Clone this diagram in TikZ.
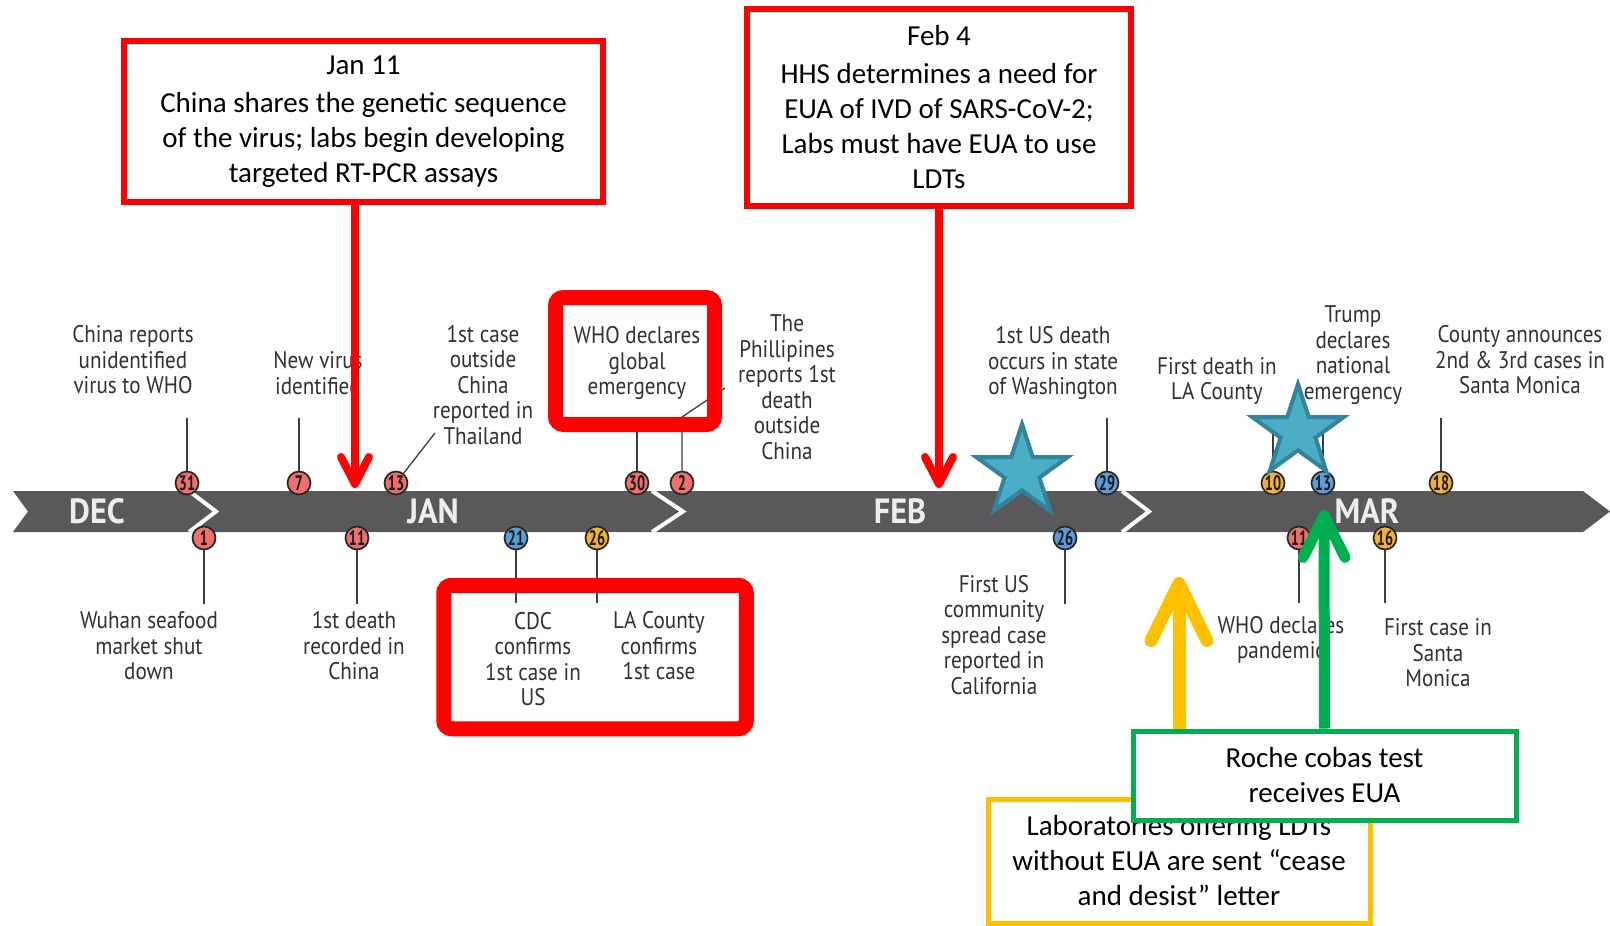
\documentclass[tikz,border=0pt]{standalone}
\usepackage{fontspec}
\setmainfont{Carlito}
\newfontfamily\evfont[FakeStretch=0.88]{PT Sans}
\newfontfamily\numfont[FakeStretch=0.68]{PT Sans}
\newfontfamily\monthfont[FakeStretch=0.92]{PT Sans}
\usetikzlibrary{shapes.geometric,arrows.meta}
\definecolor{bargray}{HTML}{59595B}
\definecolor{evc}{HTML}{303030}
\definecolor{stemc}{HTML}{3C3C3C}
\definecolor{dotline}{HTML}{262626}
\definecolor{dotred}{HTML}{EF6F6C}
\definecolor{dotblue}{HTML}{5C9BD6}
\definecolor{dotorange}{HTML}{F2B134}
\definecolor{monthc}{HTML}{EDEDED}
\definecolor{starfill}{HTML}{4BACC6}
\definecolor{starline}{HTML}{31849B}
\definecolor{calloutred}{HTML}{FF0000}
\definecolor{calloutyel}{HTML}{FFC000}
\definecolor{calloutgrn}{HTML}{00B050}
\begin{document}
\begin{tikzpicture}[x=1pt,y=-1pt,
  stemline/.style={draw=stemc, line width=1.3},
  evtext/.style={align=center, inner sep=0, text=evc, font=\evfont\fontsize{24}{25.5}\selectfont},
  monthlbl/.style={inner sep=0, text=monthc, font=\monthfont\bfseries\fontsize{35}{35}\selectfont},
  daydot/.style={circle, draw=dotline, line width=1.7, fill=#1, minimum size=23, inner sep=0, text=black!90, font=\numfont\bfseries\fontsize{21}{21}\selectfont},
  callout/.style={draw=#1, fill=white, inner sep=0, align=center, font=\fontsize{29}{35}\selectfont},
  hlbox/.style={draw=calloutred, line width=15, rounded corners=8, inner sep=0},
  teststar/.style={star, star points=5, star point ratio=2.618, minimum size=96, inner sep=0, fill=starfill, draw=starline, line width=4},
  redarr/.style={draw=calloutred, line width=8, -{Straight Barb[length=27, width=28, round]}},
  yelarr/.style={draw=calloutyel, line width=13, -{Straight Barb[length=57, width=56, round]}},
  grnarr/.style={draw=calloutgrn, line width=11, -{Straight Barb[length=42, width=42, round]}}
]
\useasboundingbox (0,0) rectangle (1610,926);

% timeline bar
\fill[bargray] (13,491) -- (1583,491) -- (1610,511.5) -- (1583,532) -- (13,532) -- (28,511.5) -- cycle;
\draw[white, line width=4] (189,491) -- (216,511.5) -- (189,532);
\draw[white, line width=4] (652,491) -- (683,511.5) -- (652,532);
\draw[white, line width=4] (1122,491) -- (1149,511.5) -- (1122,532);
\node[monthlbl] (mdec) at (97,511) {DEC};
\node[monthlbl] (mjan) at (433,511) {JAN};
\node[monthlbl] (mfeb) at (900,511) {FEB};
\node[monthlbl] (mmar) at (1367,511) {MAR};

% stem end points
\coordinate (e31) at (187,418);
\coordinate (e7) at (299,418);
\coordinate (e13) at (435,433);
\coordinate (e30) at (637,425);
\coordinate (e2a) at (682,417);
\coordinate (e2b) at (725,388);
\coordinate (e29) at (1107,418);
\coordinate (e10) at (1273,425);
\coordinate (e13b) at (1323,425);
\coordinate (e18) at (1441,418);
\coordinate (e1) at (204,604);
\coordinate (e11) at (357,604);
\coordinate (e21) at (516,603);
\coordinate (e26) at (597,603);
\coordinate (e26b) at (1065,604);
\coordinate (e11b) at (1299,603);
\coordinate (e16) at (1385,603);

% day circles
\node[daydot=dotred] (c31) at (187,483) {31};
\node[daydot=dotred] (c7) at (299,483) {7};
\node[daydot=dotred] (c13) at (396,483) {13};
\node[daydot=dotred] (c30) at (637,483) {30};
\node[daydot=dotred] (c2) at (682,483) {2};
\node[daydot=dotblue] (c29) at (1107,483) {29};
\node[daydot=dotorange] (c10) at (1273,483) {10};
\node[daydot=dotblue] (c13b) at (1323,483) {13};
\node[daydot=dotorange] (c18) at (1441,483) {18};
\node[daydot=dotred] (c1) at (204,538) {1};
\node[daydot=dotred] (c11) at (357,538) {11};
\node[daydot=dotblue] (c21) at (516,538) {21};
\node[daydot=dotorange] (c26) at (597,538) {26};
\node[daydot=dotblue] (c26b) at (1065,538) {26};
\node[daydot=dotred] (c11b) at (1299,538) {11};
\node[daydot=dotorange] (c16) at (1385,538) {16};

% stems
\draw[stemline] (c31) -- (e31);
\draw[stemline] (c7) -- (e7);
\draw[stemline] (c13) -- (e13);
\draw[stemline] (c30) -- (e30);
\draw[stemline] (c2) -- (e2a) -- (e2b);
\draw[stemline] (c29) -- (e29);
\draw[stemline] (c10) -- (e10);
\draw[stemline] (c13b) -- (e13b);
\draw[stemline] (c18) -- (e18);
\draw[stemline] (c1) -- (e1);
\draw[stemline] (c11) -- (e11);
\draw[stemline] (c21) -- (e21);
\draw[stemline] (c26) -- (e26);
\draw[stemline] (c26b) -- (e26b);
\draw[stemline] (c11b) -- (e11b);
\draw[stemline] (c16) -- (e16);

% event texts
\node[evtext] (t31) at (133,360) {China reports\\unidentified\\virus to WHO};
\node[evtext] (t7) at (318,373) {New virus\\identified};
\node[evtext] (t13) at (483,385) {1st case\\outside\\China\\reported in\\Thailand};
\node[evtext] (t30) at (637,363) {WHO declares\\global\\emergency};
\node[evtext] (t2) at (787,387) {The\\Phillipines\\reports 1st\\death\\outside\\China};
\node[evtext] (t29) at (1053,363) {1st US death\\occurs in state\\of Washington};
\node[evtext] (t10) at (1217,381) {First death in\\LA County};
\node[evtext] (t13b) at (1353,355) {Trump\\declares\\national\\emergency};
\node[evtext] (t18) at (1520,360) {County announces\\2nd \& 3rd cases in\\Santa Monica};
\node[evtext] (t1) at (149,646) {Wuhan seafood\\market shut\\down};
\node[evtext] (t11) at (354,646) {1st death\\recorded in\\China};
\node[evtext] (t21) at (533,659) {CDC\\confirms\\1st case in\\US};
\node[evtext] (t26) at (659,646) {LA County\\confirms\\1st case};
\node[evtext] (t26b) at (994,635) {First US\\community\\spread case\\reported in\\California};
\node[evtext] (t11b) at (1281,640) {WHO declares\\pandemic};
\node[evtext] (t16) at (1438,653) {First case in\\Santa\\Monica};

% stars
\node[teststar] (star1) at (1022,472) {};
\node[teststar] (star2) at (1298,432) {};

% highlight boxes
\node[hlbox, minimum width=159, minimum height=127] (hlwho) at (635,361) {};
\node[hlbox, minimum width=302.5, minimum height=143.5] (hlcdc) at (595,657) {};

% top callouts
\node[callout=calloutred, line width=6.5, minimum width=479, minimum height=161] (bjan) at (363.5,121.5)
  {Jan 11\\[3pt]China shares the genetic sequence\\of the virus; labs begin developing\\targeted RT-PCR assays};
\node[callout=calloutred, line width=6.5, minimum width=384, minimum height=197] (bfeb) at (939,107.5)
  {Feb 4\\[3pt]HHS determines a need for\\EUA of IVD of SARS-CoV-2;\\Labs must have EUA to use\\LDTs};
\coordinate (tipjan) at (355,488);
\coordinate (tipfeb) at (939,488);
\draw[redarr] (tipjan |- bjan.south) -- (tipjan);
\draw[redarr] (bfeb.south) -- (tipfeb);

% bottom callouts
\node[callout=calloutyel, line width=5, minimum width=382, minimum height=124] (byel) at (1179,861)
  {Laboratories offering LDTs\\without EUA are sent “cease\\and desist” letter};
\coordinate (tipyel) at (1179,577);
\draw[yelarr] (byel.north) -- (tipyel);
\node[callout=calloutgrn, line width=5, minimum width=383, minimum height=89] (bgrn) at (1324.5,775.5)
  {Roche cobas test\\receives EUA};
\coordinate (tipgrn) at (1324,510);
\draw[grnarr] (bgrn.north) -- (tipgrn);
\end{tikzpicture}
\end{document}
